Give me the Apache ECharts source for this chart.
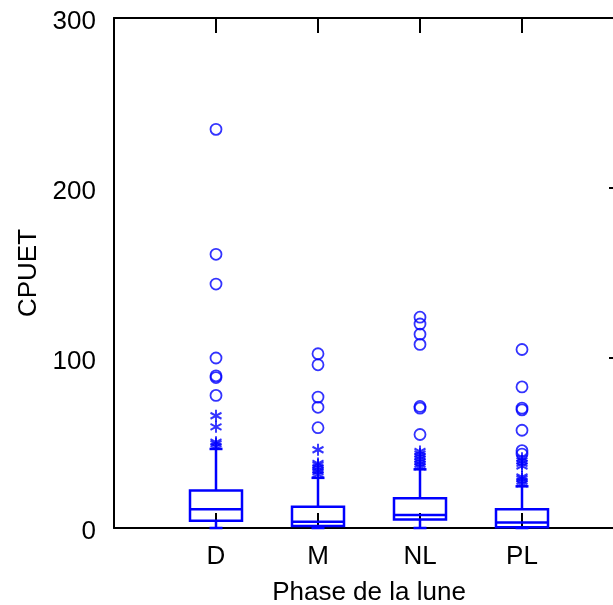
<!DOCTYPE html>
<html>
<head>
<meta charset="utf-8">
<script src="https://cdn.jsdelivr.net/npm/echarts@6/dist/echarts.min.js"></script>
<style>
  html, body { margin: 0; padding: 0; background: #fff; }
  #chart { width: 613px; height: 605px; }
</style>
</head>
<body>
<div id="chart"></div>
<script>
// Moon phase groups and their CPUET distributions
const categories = ['D', 'M', 'NL', 'PL'];
const whiskerLow = [0, 0, 0, 0];
const quartile1 = [4.3, 1.2, 5.0, 0.4];
const medians = [11, 3.7, 7.6, 3.3];
const quartile3 = [22, 12.5, 17.5, 11];
const whiskerHigh = [46.5, 29.5, 34.5, 24.5];

// Values beyond the whiskers (drawn as asterisks)
const nearOutliers = [
  [48, 49.5, 50.5, 59.5, 66],
  [31.5, 33, 34, 35.5, 37, 38, 46],
  [36, 37.5, 39, 40.5, 42, 43.5, 45],
  [26, 27.5, 29, 30, 36.5, 38, 39.5, 41]
];
// Extreme values (drawn as open circles)
const farOutliers = [
  [78, 88.5, 89.5, 100, 143.5, 161, 234.5],
  [59, 71, 77, 96, 102.5],
  [55, 70.5, 71.5, 108, 114, 120, 124],
  [43.5, 45.5, 57.5, 69.5, 70.5, 83, 105]
];

const BLUE = '#0000ff';
const FONT = '"Liberation Sans Narrow", "Liberation Sans", Arial, sans-serif';
const FS = 26;

const boxData = categories.map((c, i) =>
  [i + 1, whiskerLow[i], quartile1[i], medians[i], quartile3[i], whiskerHigh[i]]);
const nearData = [];
const farData = [];
categories.forEach((c, i) => {
  nearOutliers[i].forEach(v => nearData.push([i + 1, v]));
  farOutliers[i].forEach(v => farData.push([i + 1, v]));
});

function renderBox(params, api) {
  const x = api.value(0);
  const pLow = api.coord([x, api.value(1)]);
  const pQ1 = api.coord([x, api.value(2)]);
  const pMed = api.coord([x, api.value(3)]);
  const pQ3 = api.coord([x, api.value(4)]);
  const pHigh = api.coord([x, api.value(5)]);
  const half = 26, cap = 6.5, cx = pQ1[0];
  const st = { stroke: BLUE, lineWidth: 2.5, fill: null };
  const line = (x1, y1, x2, y2) => ({ type: 'line', shape: { x1, y1, x2, y2 }, style: st });
  return {
    type: 'group',
    children: [
      { type: 'rect', shape: { x: cx - half, y: pQ3[1], width: half * 2, height: pQ1[1] - pQ3[1] }, style: st },
      line(cx - half, pMed[1], cx + half, pMed[1]),
      line(cx, pQ3[1], cx, pHigh[1]),
      line(cx - cap, pHigh[1], cx + cap, pHigh[1]),
      line(cx, pQ1[1], cx, pLow[1]),
      line(cx - cap, pLow[1], cx + cap, pLow[1])
    ]
  };
}

const chart = echarts.init(document.getElementById('chart'));
const axisLine = { show: true, onZero: false, lineStyle: { color: '#000', width: 2 } };
const tickIn = { show: true, inside: true, length: 15, lineStyle: { color: '#000', width: 2 } };

chart.setOption({
  animation: false,
  backgroundColor: '#fff',
  grid: { left: 114, top: 18, width: 510, height: 510, containLabel: false, outerBoundsMode: 'none' },
  xAxis: [
    {
      type: 'value', position: 'bottom', min: 0, max: 5, interval: 1,
      axisLine, axisTick: tickIn, splitLine: { show: false },
      axisLabel: {
        margin: 16, color: '#000', fontSize: FS, fontFamily: FONT,
        formatter: v => categories[v - 1] || ''
      },
      name: 'Phase de la lune', nameLocation: 'middle', nameGap: 52,
      nameTextStyle: { color: '#000', fontSize: FS, fontFamily: FONT }
    },
    {
      type: 'value', position: 'top', min: 0, max: 5, interval: 1,
      axisLine, axisTick: tickIn, axisLabel: { show: false }, splitLine: { show: false }
    }
  ],
  yAxis: [
    {
      type: 'value', position: 'left', min: 0, max: 300, interval: 100,
      axisLine, axisTick: { show: false }, splitLine: { show: false },
      axisLabel: { margin: 18, color: '#000', fontSize: FS, fontFamily: FONT, verticalAlign: 'top', padding: [-9, 0, 0, 0] },
      name: 'CPUET', nameLocation: 'middle', nameGap: 72, nameRotate: 90,
      nameTextStyle: { color: '#000', fontSize: FS, fontFamily: FONT }
    },
    {
      type: 'value', position: 'right', min: 0, max: 300, interval: 100,
      axisLine, axisTick: tickIn, axisLabel: { show: false }, splitLine: { show: false }
    }
  ],
  series: [
    {
      type: 'custom', xAxisIndex: 0, yAxisIndex: 0, z: 3,
      renderItem: renderBox, data: boxData,
      encode: { x: 0, y: [1, 2, 3, 4, 5] }
    },
    {
      type: 'scatter', xAxisIndex: 0, yAxisIndex: 0, z: 4,
      symbol: 'path://M0,-10L0,10M-8.66,-5L8.66,5M-8.66,5L8.66,-5',
      symbolSize: [11, 12],
      itemStyle: { color: 'none', borderColor: BLUE, borderWidth: 2 },
      data: nearData
    },
    {
      type: 'scatter', xAxisIndex: 0, yAxisIndex: 0, z: 4,
      symbol: 'circle', symbolSize: 11,
      itemStyle: { color: 'rgba(0,0,0,0)', borderColor: BLUE, borderWidth: 1.8 },
      data: farData
    }
  ]
});
</script>
</body>
</html>
